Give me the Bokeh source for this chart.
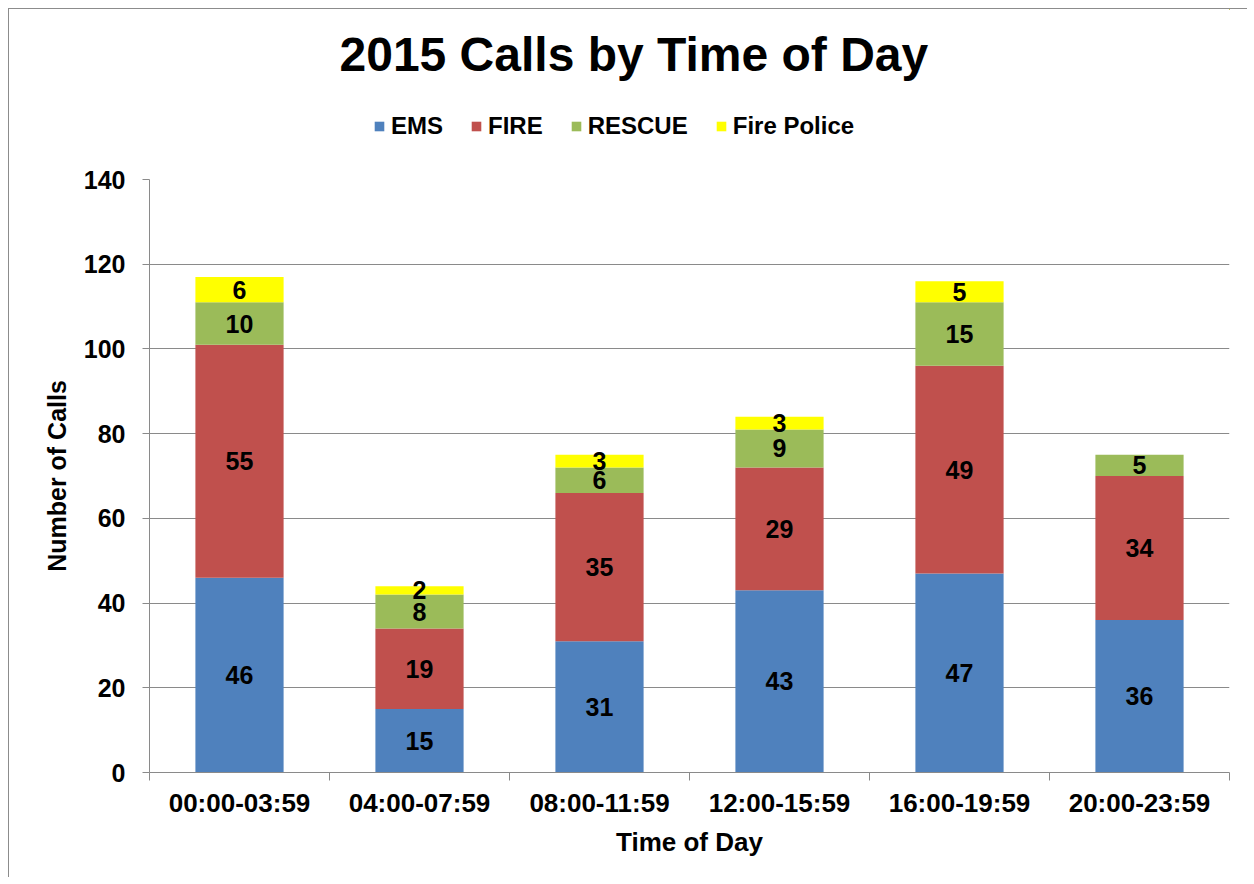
from bokeh.plotting import figure
from bokeh.layouts import column
from bokeh.models import ColumnDataSource, FixedTicker, Legend, LegendItem, Range1d, Label
from bokeh.embed import file_html
from bokeh.resources import INLINE
from bokeh.core.properties import value

periods = ["00:00-03:59", "04:00-07:59", "08:00-11:59", "12:00-15:59", "16:00-19:59", "20:00-23:59"]
ems = [46, 15, 31, 43, 47, 36]
fire = [55, 19, 35, 29, 49, 34]
rescue = [10, 8, 6, 9, 15, 5]
fire_police = [6, 2, 3, 3, 5, 0]
series_names = ["EMS", "FIRE", "RESCUE", "Fire Police"]
series_values = [ems, fire, rescue, fire_police]
colors = ["#4F81BD", "#C0504D", "#9BBB59", "#FFFF00"]
y_ticks = [0, 20, 40, 60, 80, 100, 120, 140]
title_text = "2015 Calls by Time of Day"

FONT = "Liberation Sans"
GRAY = "#8a8a8a"
W = 1238

n = len(periods)
xc = [i + 0.5 for i in range(n)]
data = {"x": xc}
for name, vals in zip(series_names, series_values):
    data[name] = vals
src = ColumnDataSource(data)

# ---------- header: title + legend (frame is aligned with the main chart's frame) ----------
# the header's ranges are away from the data, so its swatch renderers draw nothing visible
header = figure(width=W, height=154, x_range=Range1d(-3, -2), y_range=Range1d(-3, -2),
                x_axis_type=None, y_axis_type=None, title=None,
                output_backend="svg", toolbar_location=None, min_border=0)
header.outline_line_color = None
header.grid.visible = False

header.add_layout(Label(x=190, y=109, x_units="screen", y_units="screen", text=title_text,
                        text_font=FONT, text_font_size="48px", text_font_style="bold",
                        text_color="black", text_baseline="alphabetic", text_align="left"))

swatches = header.vbar_stack(series_names, x="x", width=0.49, color=colors, line_color=None, source=src)
legend = Legend(items=[LegendItem(label=nm, renderers=[r]) for nm, r in zip(series_names, swatches)],
                orientation="horizontal", location=(224, 23),
                label_text_font=FONT, label_text_font_size="24px", label_text_font_style="bold",
                label_text_color="black",
                glyph_width=12, glyph_height=12, label_standoff=6, spacing=27, padding=0, margin=0,
                border_line_color=None, background_fill_alpha=0)
header.add_layout(legend)

# ---------- main chart ----------
p = figure(width=W, height=714, x_range=Range1d(0, n), y_range=Range1d(0, y_ticks[-1]),
           output_backend="svg", toolbar_location=None, title=None,
           min_border_left=140, min_border_right=18, min_border_top=16, min_border_bottom=105)
p.outline_line_color = None
p.background_fill_color = "white"
p.border_fill_color = "white"

p.vbar_stack(series_names, x="x", width=0.49, color=colors, line_color=None, source=src)

# data labels
lx, ly, lt = [], [], []
base = [0] * n
for vals in series_values:
    for i, v in enumerate(vals):
        if v > 0:
            lx.append(xc[i])
            ly.append(base[i] + v / 2)
            lt.append(str(v))
        base[i] += v
p.text(x=lx, y=ly, text=lt, text_font=value(FONT), text_font_style="bold", text_font_size="25px",
       text_align="center", text_baseline="middle", text_color="black")

# x axis
xa = p.xaxis[0]
xa.ticker = FixedTicker(ticks=xc, minor_ticks=list(range(n + 1)))
xa.major_label_overrides = {x: lab for x, lab in zip(xc, periods)}
xa.major_tick_line_color = None
xa.major_tick_out = 0
xa.major_tick_in = 0
xa.minor_tick_out = 8
xa.minor_tick_in = 0
xa.minor_tick_line_color = GRAY
xa.axis_line_color = GRAY
xa.major_label_text_font = FONT
xa.major_label_text_font_size = "26px"
xa.major_label_text_font_style = "bold"
xa.major_label_text_color = "black"
xa.major_label_standoff = 7
xa.axis_label = "Time of Day"
xa.axis_label_text_font = FONT
xa.axis_label_text_font_size = "26px"
xa.axis_label_text_font_style = "bold"
xa.axis_label_text_color = "black"
xa.axis_label_standoff = 6

# y axis
ya = p.yaxis[0]
ya.ticker = FixedTicker(ticks=y_ticks)
ya.minor_tick_line_color = None
ya.major_tick_out = 7
ya.major_tick_in = 0
ya.major_tick_line_color = GRAY
ya.axis_line_color = GRAY
ya.major_label_text_font = FONT
ya.major_label_text_font_size = "25px"
ya.major_label_text_font_style = "bold"
ya.major_label_text_color = "black"
ya.major_label_standoff = 17
ya.axis_label = "Number of Calls"
ya.axis_label_text_font = FONT
ya.axis_label_text_font_size = "25px"
ya.axis_label_text_font_style = "bold"
ya.axis_label_text_color = "black"
ya.axis_label_standoff = 10

p.xgrid.grid_line_color = None
p.ygrid.ticker = FixedTicker(ticks=y_ticks)
p.ygrid.grid_line_color = GRAY

layout = column(header, p, spacing=0,
                styles={"margin-left": "8px", "margin-top": "8px",
                        "border-left": "1px solid #8c8c8c", "border-top": "1px solid #8c8c8c"})

open("out.html", "w").write(file_html(layout, INLINE))
